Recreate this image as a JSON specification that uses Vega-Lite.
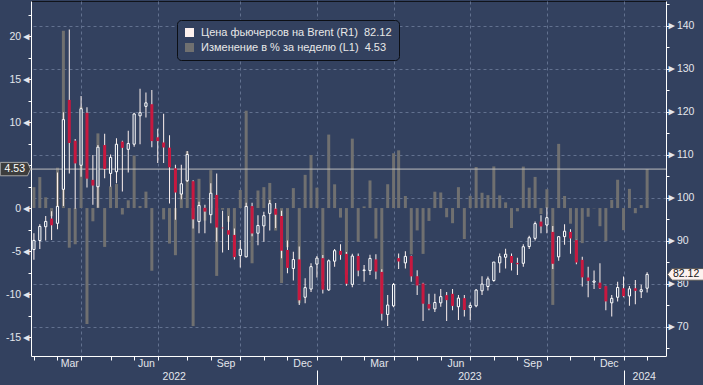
{
  "$schema": "https://vega.github.io/schema/vega-lite/v6.json",
  "width": 635,
  "height": 355,
  "autosize": {"type": "none"},
  "padding": {"left": 31, "top": 1, "right": 37, "bottom": 29},
  "background": "#33415f",
  "config": {
    "view": {"stroke": "#10131a", "strokeWidth": 1},
    "font": "Liberation Sans",
    "scale": {"continuousPadding": 0},
    "axis": {
      "labelFont": "Liberation Sans",
      "labelFontSize": 10.5,
      "labelColor": "#e3e6ec",
      "domainColor": "#ffffff",
      "tickColor": "#ffffff",
      "labelFlush": false,
      "labelOverlap": false
    }
  },
  "datasets": {
    "weekly": [
      {"d":"2022-01-28","o":87.9,"h":91.7,"l":85.5,"c":90.03,"p":2.43},
      {"d":"2022-02-04","o":90.0,"h":93.8,"l":88.0,"c":93.27,"p":3.60},
      {"d":"2022-02-11","o":93.2,"h":95.7,"l":90.0,"c":94.44,"p":1.25},
      {"d":"2022-02-18","o":95.1,"h":96.8,"l":90.1,"c":93.54,"p":-0.95},
      {"d":"2022-02-25","o":94.0,"h":105.8,"l":92.6,"c":97.93,"p":4.69},
      {"d":"2022-03-04","o":101.9,"h":119.8,"l":98.0,"c":118.11,"p":20.61},
      {"d":"2022-03-11","o":122.7,"h":139.1,"l":105.6,"c":112.67,"p":-4.61},
      {"d":"2022-03-18","o":113.2,"h":113.6,"l":97.4,"c":107.93,"p":-4.21},
      {"d":"2022-03-25","o":107.5,"h":123.6,"l":104.8,"c":120.65,"p":11.79},
      {"d":"2022-04-01","o":119.7,"h":121.0,"l":102.3,"c":104.39,"p":-13.48},
      {"d":"2022-04-08","o":104.1,"h":109.9,"l":98.3,"c":102.78,"p":-1.54},
      {"d":"2022-04-14","o":102.5,"h":112.2,"l":97.6,"c":111.70,"p":8.68},
      {"d":"2022-04-22","o":112.2,"h":114.8,"l":104.5,"c":106.65,"p":-4.52},
      {"d":"2022-04-29","o":105.6,"h":110.0,"l":102.5,"c":109.34,"p":2.52},
      {"d":"2022-05-06","o":106.0,"h":113.8,"l":103.3,"c":112.39,"p":2.79},
      {"d":"2022-05-13","o":113.0,"h":113.2,"l":101.4,"c":111.55,"p":-0.75},
      {"d":"2022-05-20","o":111.2,"h":115.5,"l":105.8,"c":112.55,"p":0.90},
      {"d":"2022-05-27","o":112.4,"h":119.7,"l":111.8,"c":119.43,"p":6.11},
      {"d":"2022-06-03","o":119.0,"h":125.3,"l":112.4,"c":119.72,"p":0.24},
      {"d":"2022-06-10","o":121.2,"h":124.4,"l":118.6,"c":122.01,"p":1.91},
      {"d":"2022-06-17","o":121.7,"h":125.0,"l":111.7,"c":113.12,"p":-7.29},
      {"d":"2022-06-24","o":114.0,"h":116.0,"l":108.0,"c":113.12,"p":0.00},
      {"d":"2022-07-01","o":112.8,"h":119.5,"l":108.0,"c":111.63,"p":-1.32},
      {"d":"2022-07-08","o":111.6,"h":114.5,"l":98.6,"c":107.02,"p":-4.13},
      {"d":"2022-07-15","o":106.8,"h":107.6,"l":94.8,"c":101.16,"p":-5.48},
      {"d":"2022-07-22","o":100.8,"h":107.6,"l":99.6,"c":103.20,"p":2.02},
      {"d":"2022-07-29","o":103.9,"h":110.8,"l":103.6,"c":110.01,"p":6.60},
      {"d":"2022-08-05","o":103.8,"h":104.0,"l":92.8,"c":94.92,"p":-13.72},
      {"d":"2022-08-12","o":94.4,"h":99.0,"l":91.7,"c":98.15,"p":3.40},
      {"d":"2022-08-19","o":97.6,"h":98.3,"l":91.7,"c":96.72,"p":-1.46},
      {"d":"2022-08-26","o":96.0,"h":103.3,"l":94.0,"c":100.99,"p":4.41},
      {"d":"2022-09-02","o":100.6,"h":105.6,"l":89.7,"c":93.02,"p":-7.89},
      {"d":"2022-09-09","o":93.0,"h":96.9,"l":87.2,"c":92.84,"p":-0.19},
      {"d":"2022-09-16","o":92.4,"h":95.7,"l":87.8,"c":91.35,"p":-1.60},
      {"d":"2022-09-23","o":91.3,"h":92.8,"l":85.6,"c":86.15,"p":-5.69},
      {"d":"2022-09-30","o":86.5,"h":90.1,"l":83.7,"c":87.96,"p":2.10},
      {"d":"2022-10-07","o":86.2,"h":98.8,"l":86.1,"c":97.92,"p":11.32},
      {"d":"2022-10-14","o":98.0,"h":98.8,"l":91.0,"c":91.63,"p":-6.42},
      {"d":"2022-10-21","o":91.7,"h":95.9,"l":88.9,"c":93.50,"p":2.04},
      {"d":"2022-10-28","o":93.4,"h":96.7,"l":89.7,"c":95.77,"p":2.43},
      {"d":"2022-11-04","o":96.3,"h":99.4,"l":92.3,"c":98.57,"p":2.92},
      {"d":"2022-11-11","o":97.4,"h":98.7,"l":92.9,"c":95.99,"p":-2.62},
      {"d":"2022-11-18","o":95.7,"h":96.9,"l":85.9,"c":87.62,"p":-8.72},
      {"d":"2022-11-25","o":87.8,"h":90.0,"l":82.4,"c":83.63,"p":-4.55},
      {"d":"2022-12-02","o":83.5,"h":87.4,"l":80.7,"c":85.57,"p":2.32},
      {"d":"2022-12-09","o":85.6,"h":88.6,"l":75.0,"c":76.10,"p":-11.07},
      {"d":"2022-12-16","o":76.8,"h":81.2,"l":75.4,"c":79.04,"p":3.86},
      {"d":"2022-12-23","o":78.7,"h":84.7,"l":78.0,"c":83.92,"p":6.17},
      {"d":"2022-12-30","o":84.5,"h":86.4,"l":81.4,"c":85.91,"p":2.37},
      {"d":"2023-01-06","o":85.9,"h":86.6,"l":77.7,"c":78.57,"p":-8.54},
      {"d":"2023-01-13","o":78.5,"h":85.6,"l":78.3,"c":85.28,"p":8.54},
      {"d":"2023-01-20","o":85.2,"h":88.0,"l":83.9,"c":87.63,"p":2.76},
      {"d":"2023-01-27","o":87.6,"h":89.1,"l":85.5,"c":86.66,"p":-1.11},
      {"d":"2023-02-03","o":86.9,"h":87.3,"l":79.5,"c":79.94,"p":-7.75},
      {"d":"2023-02-10","o":79.8,"h":86.9,"l":79.1,"c":86.39,"p":8.07},
      {"d":"2023-02-17","o":86.4,"h":87.0,"l":81.7,"c":83.00,"p":-3.92},
      {"d":"2023-02-24","o":83.0,"h":84.3,"l":80.4,"c":83.16,"p":0.19},
      {"d":"2023-03-03","o":83.0,"h":86.7,"l":82.0,"c":85.83,"p":3.21},
      {"d":"2023-03-10","o":85.6,"h":86.8,"l":81.0,"c":82.78,"p":-3.55},
      {"d":"2023-03-17","o":82.7,"h":83.3,"l":71.4,"c":72.97,"p":-11.85},
      {"d":"2023-03-24","o":72.8,"h":77.3,"l":70.1,"c":74.99,"p":2.77},
      {"d":"2023-03-31","o":74.8,"h":80.1,"l":74.5,"c":79.77,"p":6.37},
      {"d":"2023-04-06","o":85.9,"h":87.0,"l":83.4,"c":85.12,"p":6.71},
      {"d":"2023-04-14","o":84.8,"h":87.5,"l":83.5,"c":86.31,"p":1.40},
      {"d":"2023-04-21","o":86.4,"h":86.5,"l":80.4,"c":81.66,"p":-5.39},
      {"d":"2023-04-28","o":81.7,"h":83.1,"l":77.3,"c":79.54,"p":-2.60},
      {"d":"2023-05-05","o":80.0,"h":80.2,"l":71.3,"c":75.30,"p":-5.33},
      {"d":"2023-05-12","o":75.2,"h":77.6,"l":73.8,"c":74.17,"p":-1.50},
      {"d":"2023-05-19","o":74.1,"h":77.6,"l":73.4,"c":75.58,"p":1.90},
      {"d":"2023-05-26","o":75.5,"h":78.7,"l":74.6,"c":76.95,"p":1.81},
      {"d":"2023-06-02","o":77.3,"h":78.0,"l":71.3,"c":76.13,"p":-1.07},
      {"d":"2023-06-09","o":77.6,"h":78.7,"l":73.8,"c":74.79,"p":-1.76},
      {"d":"2023-06-16","o":74.6,"h":77.3,"l":71.5,"c":76.61,"p":2.43},
      {"d":"2023-06-23","o":76.6,"h":77.3,"l":72.3,"c":73.85,"p":-3.60},
      {"d":"2023-06-30","o":74.4,"h":75.6,"l":71.5,"c":74.90,"p":1.42},
      {"d":"2023-07-07","o":74.8,"h":78.7,"l":74.5,"c":78.47,"p":4.77},
      {"d":"2023-07-14","o":78.3,"h":81.7,"l":77.3,"c":79.87,"p":1.78},
      {"d":"2023-07-21","o":79.3,"h":81.6,"l":78.4,"c":81.07,"p":1.50},
      {"d":"2023-07-28","o":80.7,"h":85.0,"l":80.4,"c":84.99,"p":4.84},
      {"d":"2023-08-04","o":84.8,"h":87.0,"l":82.5,"c":86.24,"p":1.47},
      {"d":"2023-08-11","o":86.1,"h":88.1,"l":83.5,"c":86.81,"p":0.66},
      {"d":"2023-08-18","o":86.4,"h":87.0,"l":83.0,"c":84.80,"p":-2.32},
      {"d":"2023-08-25","o":84.8,"h":86.0,"l":82.0,"c":84.48,"p":-0.38},
      {"d":"2023-09-01","o":84.7,"h":89.1,"l":83.9,"c":88.55,"p":4.82},
      {"d":"2023-09-08","o":88.6,"h":91.1,"l":88.0,"c":90.65,"p":2.37},
      {"d":"2023-09-15","o":90.5,"h":94.4,"l":90.0,"c":93.93,"p":3.62},
      {"d":"2023-09-22","o":94.4,"h":95.9,"l":91.7,"c":93.27,"p":-0.70},
      {"d":"2023-09-29","o":93.6,"h":97.7,"l":91.7,"c":95.31,"p":2.19},
      {"d":"2023-10-06","o":92.0,"h":93.4,"l":83.4,"c":84.58,"p":-11.26},
      {"d":"2023-10-13","o":86.2,"h":91.0,"l":85.3,"c":90.89,"p":7.46},
      {"d":"2023-10-20","o":90.9,"h":93.8,"l":89.0,"c":92.16,"p":1.40},
      {"d":"2023-10-27","o":92.0,"h":92.6,"l":86.9,"c":90.48,"p":-1.82},
      {"d":"2023-11-03","o":90.1,"h":90.2,"l":84.5,"c":84.89,"p":-6.18},
      {"d":"2023-11-10","o":85.5,"h":86.2,"l":79.3,"c":81.43,"p":-4.08},
      {"d":"2023-11-17","o":81.4,"h":83.9,"l":76.8,"c":80.61,"p":-1.01},
      {"d":"2023-11-24","o":80.3,"h":83.0,"l":78.7,"c":80.58,"p":-0.04},
      {"d":"2023-12-01","o":80.2,"h":84.7,"l":78.7,"c":78.88,"p":-2.11},
      {"d":"2023-12-08","o":79.4,"h":79.5,"l":73.8,"c":75.84,"p":-3.85},
      {"d":"2023-12-15","o":75.5,"h":77.3,"l":72.3,"c":76.55,"p":0.94},
      {"d":"2023-12-22","o":76.8,"h":80.4,"l":75.8,"c":79.07,"p":3.29},
      {"d":"2023-12-29","o":78.9,"h":81.6,"l":76.8,"c":77.04,"p":-2.57},
      {"d":"2024-01-05","o":77.1,"h":79.4,"l":74.8,"c":78.76,"p":2.23},
      {"d":"2024-01-12","o":78.9,"h":80.8,"l":75.2,"c":78.29,"p":-0.60},
      {"d":"2024-01-19","o":78.1,"h":79.7,"l":76.6,"c":78.56,"p":0.34},
      {"d":"2024-01-26","o":78.9,"h":82.6,"l":77.9,"c":82.12,"p":4.53}
    ],
    "latest": [{"price": 82.12, "pct": 4.53}]
  },
  "resolve": {
    "scale": {"x": "shared", "y": "independent"},
    "axis": {"x": "independent", "y": "independent"}
  },
  "layer": [
    {
      "data": {"name": "weekly"},
      "mark": {"type": "bar", "width": 3},
      "encoding": {
        "x": {
          "field": "d", "type": "temporal",
          "scale": {"type": "utc", "nice": false, "padding": 0, "domain": [{"year":2022,"month":1,"date":24,"hours":13,"utc":true},{"year":2024,"month":2,"date":17,"hours":10,"utc":true}]},
          "axis": {
            "orient": "bottom", "title": null, "labels": false,
            "values": [
              {"year":2022,"month":1,"date":28,"utc":true},{"year":2022,"month":2,"date":25,"utc":true},{"year":2022,"month":3,"date":25,"utc":true},
              {"year":2022,"month":4,"date":29,"utc":true},{"year":2022,"month":5,"date":27,"utc":true},{"year":2022,"month":6,"date":24,"utc":true},
              {"year":2022,"month":7,"date":29,"utc":true},{"year":2022,"month":8,"date":26,"utc":true},{"year":2022,"month":9,"date":30,"utc":true},
              {"year":2022,"month":10,"date":28,"utc":true},{"year":2022,"month":11,"date":25,"utc":true},{"year":2022,"month":12,"date":30,"utc":true},
              {"year":2023,"month":1,"date":27,"utc":true},{"year":2023,"month":2,"date":24,"utc":true},{"year":2023,"month":3,"date":31,"utc":true},
              {"year":2023,"month":4,"date":28,"utc":true},{"year":2023,"month":5,"date":26,"utc":true},{"year":2023,"month":6,"date":30,"utc":true},
              {"year":2023,"month":7,"date":28,"utc":true},{"year":2023,"month":8,"date":25,"utc":true},{"year":2023,"month":9,"date":29,"utc":true},
              {"year":2023,"month":10,"date":27,"utc":true},{"year":2023,"month":11,"date":24,"utc":true},{"year":2023,"month":12,"date":29,"utc":true},
              {"year":2024,"month":1,"date":26,"utc":true}
            ],
            "domain": true, "domainColor": "#ffffff", "domainWidth": 1,
            "ticks": true, "tickColor": "#ffffff", "tickWidth": 1,
            "tickSize": {"condition": {"test": "utcmonth(datum.value) === 11", "value": 29}, "value": 4},
            "tickDash": {"condition": {"test": "utcmonth(datum.value) === 11", "value": [4, 10, 20]}, "value": []},
            "grid": true, "gridColor": "#62718f", "gridDash": [3, 3], "gridWidth": 1,
            "gridOpacity": {"condition": {"test": "indexof([2, 5, 8, 11], utcmonth(datum.value)) >= 0", "value": 1}, "value": 0}
          }
        },
        "y": {
          "field": "p", "type": "quantitative",
          "scale": {"domain": [-17.2, 24.07], "nice": false, "zero": false},
          "axis": {
            "orient": "left", "title": null,
            "values": [-15, -12.5, -10, -7.5, -5, -2.5, 0, 2.5, 5, 7.5, 10, 12.5, 15, 17.5, 20, 22.5],
            "labelExpr": "datum.value % 5 === 0 && datum.value !== 5 ? (datum.value < 0 ? '-' : '') + abs(datum.value) + '◄' : ''",
            "tickSize": 3, "labelPadding": -3, "grid": false,
            "domain": true, "domainColor": "#ffffff"
          }
        },
        "y2": {"datum": 0},
        "color": {
          "datum": "Изменение в % за неделю (L1)\u00a0\u00a04.53", "type": "nominal",
          "scale": {"domain": ["Цена фьючерсов на Brent (R1)\u00a0\u00a082.12", "Изменение в % за неделю (L1)\u00a0\u00a04.53"], "range": ["#fdf1ee", "#707070"]},
          "legend": {
            "title": null, "orient": "none", "legendX": 146, "legendY": 19,
            "symbolType": "square", "symbolSize": 81, "symbolStrokeWidth": 0, "symbolOpacity": 1,
            "labelFont": "Liberation Sans", "labelFontSize": 11, "labelColor": "#e8e8e8", "labelOffset": 6, "labelLimit": 400,
            "fillColor": "#33415f", "strokeColor": "#0c0f15", "cornerRadius": 4, "padding": 7, "rowPadding": 3
          }
        }
      }
    },
    {
      "data": {"name": "latest"},
      "mark": {"type": "rule", "color": "#bdbdbd", "strokeWidth": 1},
      "encoding": {
        "y": {"field": "pct", "type": "quantitative", "scale": {"domain": [-17.2, 24.07], "nice": false, "zero": false}, "axis": null}
      }
    },
    {
      "data": {"name": "weekly"},
      "mark": {"type": "bar", "width": 1},
      "encoding": {
        "x": {
          "field": "d", "type": "temporal",
          "scale": {"type": "utc", "nice": false, "padding": 0, "domain": [{"year":2022,"month":1,"date":24,"hours":13,"utc":true},{"year":2024,"month":2,"date":17,"hours":10,"utc":true}]},
          "axis": {
            "orient": "bottom", "title": null,
            "values": [
              {"year":2022,"month":3,"date":11,"utc":true},{"year":2022,"month":6,"date":10,"utc":true},
              {"year":2022,"month":9,"date":12,"hours":12,"utc":true},{"year":2022,"month":12,"date":12,"hours":12,"utc":true},
              {"year":2023,"month":3,"date":13,"hours":12,"utc":true},{"year":2023,"month":6,"date":12,"hours":12,"utc":true},
              {"year":2023,"month":9,"date":11,"hours":12,"utc":true},{"year":2023,"month":12,"date":11,"hours":12,"utc":true}
            ],
            "labelExpr": "utcFormat(datum.value, '%b')",
            "ticks": false, "tickSize": 0, "domain": false, "grid": false, "labelPadding": 2
          }
        },
        "y": {"field": "l", "type": "quantitative", "scale": {"domain": [63.14, 145.7], "nice": false, "zero": false}, "axis": null},
        "y2": {"field": "h"},
        "color": {
          "datum": "Цена фьючерсов на Brent (R1)\u00a0\u00a082.12", "type": "nominal",
          "scale": {"domain": ["Цена фьючерсов на Brent (R1)\u00a0\u00a082.12", "Изменение в % за неделю (L1)\u00a0\u00a04.53"], "range": ["#fdf1ee", "#707070"]}
        }
      }
    },
    {
      "data": {"name": "weekly"},
      "transform": [{"filter": "datum.c >= datum.o"}],
      "mark": {"type": "bar", "width": 2.2, "fill": "#33415f", "stroke": "#ffffff", "strokeWidth": 1},
      "encoding": {
        "x": {
          "field": "d", "type": "temporal",
          "scale": {"type": "utc", "nice": false, "padding": 0, "domain": [{"year":2022,"month":1,"date":24,"hours":13,"utc":true},{"year":2024,"month":2,"date":17,"hours":10,"utc":true}]},
          "axis": {
            "orient": "bottom", "title": null,
            "values": [
              {"year":2022,"month":7,"date":13,"utc":true},{"year":2023,"month":6,"date":29,"utc":true},{"year":2024,"month":1,"date":22,"utc":true}
            ],
            "labelExpr": "utcFormat(datum.value, '%Y')",
            "ticks": false, "tickSize": 0, "domain": false, "grid": false, "labelPadding": 15
          }
        },
        "y": {
          "field": "o", "type": "quantitative",
          "scale": {"domain": [63.14, 145.7], "nice": false, "zero": false},
          "axis": {
            "orient": "right", "title": null,
            "values": [65, 70, 75, 80, 85, 90, 95, 100, 105, 110, 115, 120, 125, 130, 135, 140, 145],
            "labelExpr": "datum.value % 10 === 0 ? '►' + datum.value : ''",
            "tickSize": 3, "labelPadding": -3,
            "domain": true, "domainColor": "#ffffff",
            "grid": true, "gridColor": "#62718f", "gridDash": [3, 3], "gridWidth": 1,
            "gridOpacity": {"condition": {"test": "datum.value % 10 === 0", "value": 1}, "value": 0}
          }
        },
        "y2": {"field": "c"}
      }
    },
    {
      "data": {"name": "weekly"},
      "transform": [{"filter": "datum.c < datum.o"}],
      "mark": {"type": "bar", "width": 3, "fill": "#c8183f"},
      "encoding": {
        "x": {
          "field": "d", "type": "temporal",
          "scale": {"type": "utc", "nice": false, "padding": 0, "domain": [{"year":2022,"month":1,"date":24,"hours":13,"utc":true},{"year":2024,"month":2,"date":17,"hours":10,"utc":true}]},
          "axis": null
        },
        "y": {"field": "o", "type": "quantitative", "scale": {"domain": [63.14, 145.7], "nice": false, "zero": false}, "axis": null},
        "y2": {"field": "c"}
      }
    },
    {
      "data": {"name": "latest"},
      "mark": {"type": "point", "shape": "M-3.07,-0.67L-0.35,-0.67L-0.05,0L-0.35,0.67L-3.07,0.67Z", "size": 400, "filled": true, "fill": "#3d3d3d", "stroke": "#a5a5a5", "strokeWidth": 1, "opacity": 1},
      "encoding": {
        "x": {"datum": {"year":2022,"month":1,"date":24,"hours":13,"utc":true}, "type": "temporal", "scale": {"type": "utc", "nice": false, "padding": 0, "domain": [{"year":2022,"month":1,"date":24,"hours":13,"utc":true},{"year":2024,"month":2,"date":17,"hours":10,"utc":true}]}, "axis": null},
        "y": {"field": "pct", "type": "quantitative", "scale": {"domain": [-17.2, 24.07], "nice": false, "zero": false}, "axis": null}
      }
    },
    {
      "data": {"name": "latest"},
      "mark": {"type": "text", "align": "right", "baseline": "middle", "dx": -6, "font": "Liberation Sans", "fontSize": 10.5, "fill": "#ffffff"},
      "encoding": {
        "x": {"datum": {"year":2022,"month":1,"date":24,"hours":13,"utc":true}, "type": "temporal", "scale": {"type": "utc", "nice": false, "padding": 0, "domain": [{"year":2022,"month":1,"date":24,"hours":13,"utc":true},{"year":2024,"month":2,"date":17,"hours":10,"utc":true}]}, "axis": null},
        "y": {"field": "pct", "type": "quantitative", "scale": {"domain": [-17.2, 24.07], "nice": false, "zero": false}, "axis": null},
        "text": {"field": "pct", "type": "quantitative", "format": ".2f"}
      }
    },
    {
      "data": {"name": "latest"},
      "mark": {"type": "point", "shape": "M0.15,0L0.6,-0.58L3.75,-0.58L3.75,0.58L0.6,0.58Z", "size": 400, "filled": true, "fill": "#fdf2ef", "stroke": "#555555", "strokeWidth": 1, "opacity": 1},
      "encoding": {
        "x": {"datum": {"year":2024,"month":2,"date":17,"hours":10,"utc":true}, "type": "temporal", "scale": {"type": "utc", "nice": false, "padding": 0, "domain": [{"year":2022,"month":1,"date":24,"hours":13,"utc":true},{"year":2024,"month":2,"date":17,"hours":10,"utc":true}]}, "axis": null},
        "y": {"field": "price", "type": "quantitative", "scale": {"domain": [63.14, 145.7], "nice": false, "zero": false}, "axis": null}
      }
    },
    {
      "data": {"name": "latest"},
      "mark": {"type": "text", "align": "left", "baseline": "middle", "dx": 7, "font": "Liberation Sans", "fontSize": 10.5, "fill": "#151515"},
      "encoding": {
        "x": {"datum": {"year":2024,"month":2,"date":17,"hours":10,"utc":true}, "type": "temporal", "scale": {"type": "utc", "nice": false, "padding": 0, "domain": [{"year":2022,"month":1,"date":24,"hours":13,"utc":true},{"year":2024,"month":2,"date":17,"hours":10,"utc":true}]}, "axis": null},
        "y": {"field": "price", "type": "quantitative", "scale": {"domain": [63.14, 145.7], "nice": false, "zero": false}, "axis": null},
        "text": {"field": "price", "type": "quantitative", "format": ".2f"}
      }
    }
  ]
}
